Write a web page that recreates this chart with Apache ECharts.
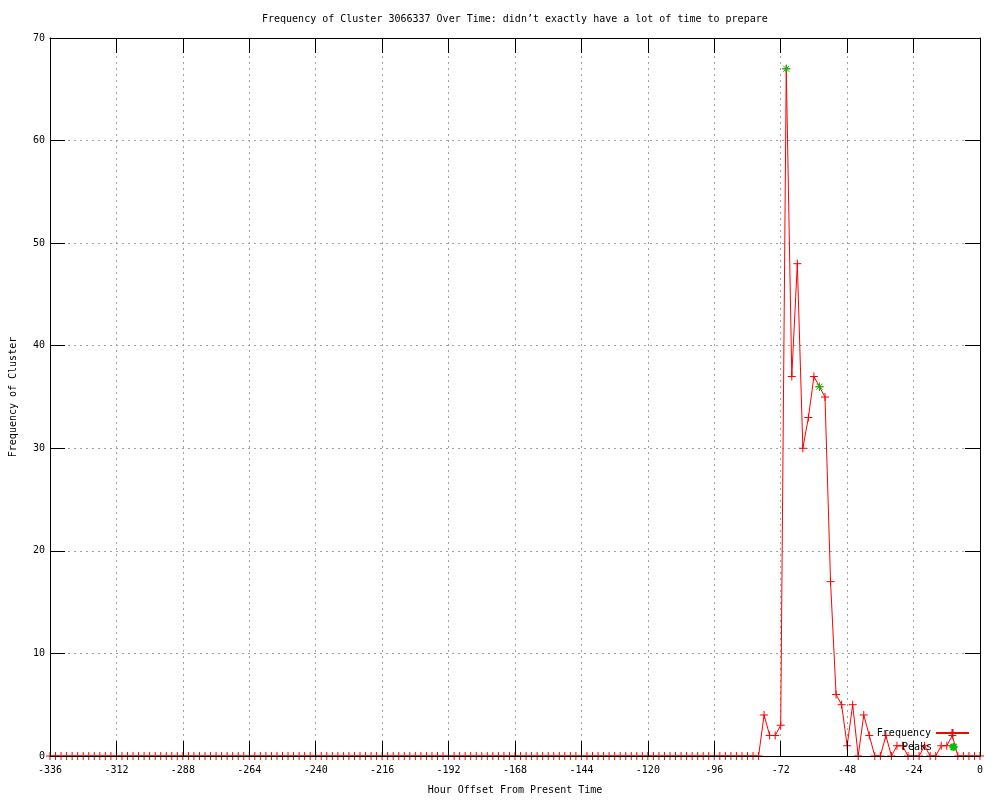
<!DOCTYPE html>
<html>
<head>
<meta charset="utf-8">
<script src="https://cdn.jsdelivr.net/npm/echarts@6/dist/echarts.min.js"></script>
<style>
html,body{margin:0;padding:0;background:#fff;}
#chart{width:1000px;height:800px;}
</style>
</head>
<body>
<div id="chart"></div>
<script>
// Hour offsets (every 2 hours from -336 to 0)
const hours = [];
for (let h = -336; h <= 0; h += 2) hours.push(h);

// Frequency values, one row per 24 hours
const frequency = [
  0,0,0,0,0,0,0,0,0,0,0,0,
  0,0,0,0,0,0,0,0,0,0,0,0,
  0,0,0,0,0,0,0,0,0,0,0,0,
  0,0,0,0,0,0,0,0,0,0,0,0,
  0,0,0,0,0,0,0,0,0,0,0,0,
  0,0,0,0,0,0,0,0,0,0,0,0,
  0,0,0,0,0,0,0,0,0,0,0,0,
  0,0,0,0,0,0,0,0,0,0,0,0,
  0,0,0,0,0,0,0,0,0,0,0,0,
  0,0,0,0,0,0,0,0,0,0,0,0,
  0,0,0,0,0,0,0,0,0,4,2,2,
  3,67,37,48,30,33,37,36,35,17,6,5,
  1,5,0,4,2,0,0,2,0,1,1,0,
  0,0,1,0,0,1,1,2,0,0,0,0,
  0
];

const peakHours = [-70, -58];
const peakValues = [67, 36];

const xTicks = { min: -336, max: 0, interval: 24 };
const yTicks = { min: 0, max: 70, interval: 10 };

const FONT = 'DejaVu Sans Mono';
const plusPath = 'path://M0,4L8,4M4,0L4,8';
const starPath = 'path://M0,4L8,4M4,0L4,8M1,1L7,7M1,7L7,1';

const chart = echarts.init(document.getElementById('chart'), null, { renderer: 'canvas' });

const gridLine = { show: true, showMinLine: false, showMaxLine: false,
  lineStyle: { color: '#a0a0a0', width: 1, type: [2, 4] } };

const option = {
  backgroundColor: '#ffffff',
  animation: false,
  title: {
    text: 'Frequency of Cluster 3066337 Over Time: didn’t exactly have a lot of time to prepare',
    left: 257, top: 9,
    textStyle: { fontFamily: FONT, fontSize: 10, fontWeight: 'normal', color: '#000' }
  },
  legend: [
    { data: ['Frequency'], orient: 'vertical', align: 'right', right: 30, top: 728,
      itemWidth: 33, itemHeight: 10, padding: 0, selectedMode: false,
      textStyle: { fontFamily: FONT, fontSize: 10, color: '#000' } },
    { data: ['Peaks'], orient: 'vertical', align: 'right', right: 30, top: 742,
      itemWidth: 33, itemHeight: 10, padding: 0, selectedMode: false,
      textStyle: { fontFamily: FONT, fontSize: 10, color: '#000' } }
  ],
  grid: { left: 50, right: 20, top: 38, bottom: 40, containLabel: false },
  xAxis: [
    { type: 'value', position: 'bottom', min: xTicks.min, max: xTicks.max, interval: xTicks.interval,
      z: 5,
      name: 'Hour Offset From Present Time', nameLocation: 'middle', nameGap: 29,
      nameTextStyle: { fontFamily: FONT, fontSize: 10, color: '#000' },
      axisLine: { show: true, onZero: false, lineStyle: { color: '#000', width: 1 } },
      axisTick: { show: true, inside: true, length: 15, lineStyle: { color: '#000', width: 1 } },
      axisLabel: { show: true, margin: 9, fontFamily: FONT, fontSize: 10, color: '#000' },
      splitLine: { show: false } },
    { type: 'value', position: 'top', min: xTicks.min, max: xTicks.max, interval: xTicks.interval,
      z: 0,
      axisLine: { show: true, onZero: false, lineStyle: { color: '#000', width: 1 } },
      axisTick: { show: true, inside: true, length: 15, lineStyle: { color: '#000', width: 1 } },
      axisLabel: { show: false },
      splitLine: gridLine }
  ],
  yAxis: [
    { type: 'value', position: 'left', min: yTicks.min, max: yTicks.max, interval: yTicks.interval,
      z: 5,
      name: 'Frequency of Cluster', nameLocation: 'middle', nameGap: 32,
      nameTextStyle: { fontFamily: FONT, fontSize: 10, color: '#000' },
      axisLine: { show: true, onZero: false, lineStyle: { color: '#000', width: 1 } },
      axisTick: { show: true, inside: true, length: 15, lineStyle: { color: '#000', width: 1 } },
      axisLabel: { show: true, margin: 5, fontFamily: FONT, fontSize: 10, color: '#000' },
      splitLine: { show: false } },
    { type: 'value', position: 'right', min: yTicks.min, max: yTicks.max, interval: yTicks.interval,
      z: 0,
      axisLine: { show: true, onZero: false, lineStyle: { color: '#000', width: 1 } },
      axisTick: { show: true, inside: true, length: 15, lineStyle: { color: '#000', width: 1 } },
      axisLabel: { show: false },
      splitLine: gridLine }
  ],
  series: [
    { name: 'Frequency', type: 'line', xAxisIndex: 0, yAxisIndex: 0,
      data: hours.map((h, i) => [h, frequency[i]]),
      showAllSymbol: true, symbol: plusPath, symbolSize: 8,
      lineStyle: { color: '#ff0000', width: 1 },
      itemStyle: { color: '#ff0000', borderColor: '#ff0000', borderWidth: 1 },
      z: 2, silent: true },
    { name: 'Peaks', type: 'line', xAxisIndex: 0, yAxisIndex: 0,
      data: peakHours.map((h, i) => [h, peakValues[i]]),
      showAllSymbol: true, symbol: starPath, symbolSize: 8,
      lineStyle: { color: '#00c000', width: 0, opacity: 0 },
      itemStyle: { color: '#00c000', borderColor: '#00c000', borderWidth: 1 },
      z: 3, silent: true }
  ]
};
chart.setOption(option);
</script>
</body>
</html>
